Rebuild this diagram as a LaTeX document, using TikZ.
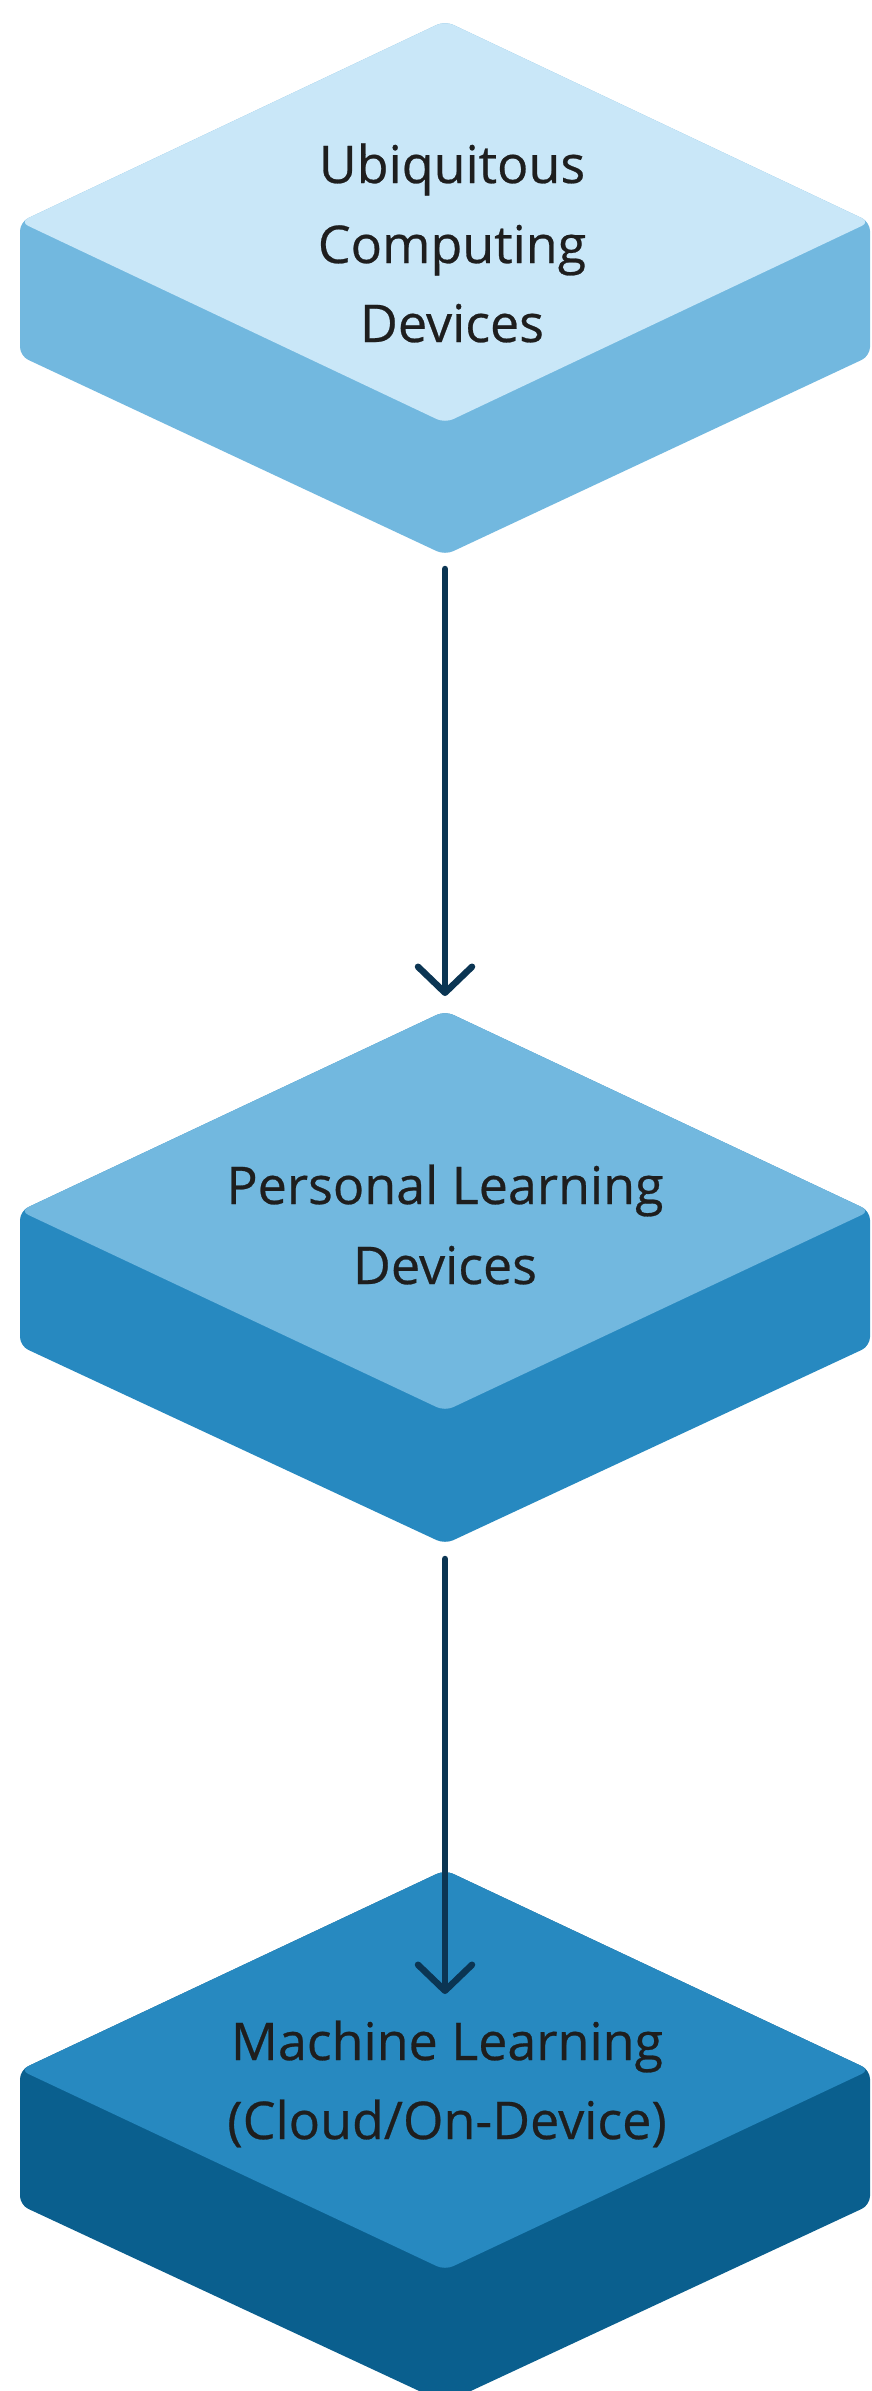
\documentclass[tikz,border=0pt]{standalone}
\usepackage{fontspec}
\newfontfamily\lblfont{Open Sans}[FakeBold=0.5]
\usetikzlibrary{arrows.meta}
\definecolor{topA}{HTML}{C9E7F8}
\definecolor{sideA}{HTML}{72B8DF}
\definecolor{topB}{HTML}{72B8DF}
\definecolor{sideB}{HTML}{2789C0}
\definecolor{topC}{HTML}{2789C0}
\definecolor{sideC}{HTML}{0A5F8E}
\definecolor{arrowc}{HTML}{0B3553}
\definecolor{textc}{HTML}{1E1E1E}
\begin{document}
\begin{tikzpicture}[x=1pt,y=-1pt,
  face/.style={rounded corners=9pt},
  lbl/.style={anchor=base,inner sep=0pt,text=textc,font=\fontsize{52}{80}\lblfont},
  flow/.style={draw=arrowc,line width=6.5pt,line cap=round,-{Straight Barb[length=26pt,width=54pt,round]}}]
\useasboundingbox (0,0) rectangle (871,2391);
\fill[white] (0,0) rectangle (871,2391);
% slab 1
\fill[sideA,face] (445,21) -- (870,222) -- (870,356) -- (445,555) -- (20,356) -- (20,222) -- cycle;
\fill[topA,face] (445,21) -- (870,222) -- (445,423) -- (20,222) -- cycle;
% slab 2
\fill[sideB,face] (445,1011) -- (870,1211) -- (870,1346) -- (445,1544) -- (20,1346) -- (20,1211) -- cycle;
\fill[topB,face] (445,1011) -- (870,1211) -- (445,1411) -- (20,1211) -- cycle;
% slab 3
\fill[sideC,face] (445,1870) -- (870,2070) -- (870,2205) -- (445,2403) -- (20,2205) -- (20,2070) -- cycle;
\fill[topC,face] (445,1870) -- (870,2070) -- (445,2270) -- (20,2070) -- cycle;
% labels
\node[lbl] (a1) at (452,183) {Ubiquitous};
\node[lbl] (a2) at (452,263) {Computing};
\node[lbl] (a3) at (452,342) {Devices};
\node[lbl] (b1) at (445,1204) {Personal Learning};
\node[lbl] (b2) at (445,1284) {Devices};
\node[lbl] (c1) at (447,2060) {Machine Learning};
\node[lbl] (c2) at (447,2139) {(Cloud/On-Device)};
% connectors
\coordinate (s1out) at (445,569);
\coordinate (s2in) at (445,996);
\coordinate (s2out) at (445,1559);
\coordinate (s3in) at (445,1994);
\draw[flow] (s1out) -- (s2in);
\draw[flow] (s2out) -- (s3in);
\end{tikzpicture}
\end{document}
